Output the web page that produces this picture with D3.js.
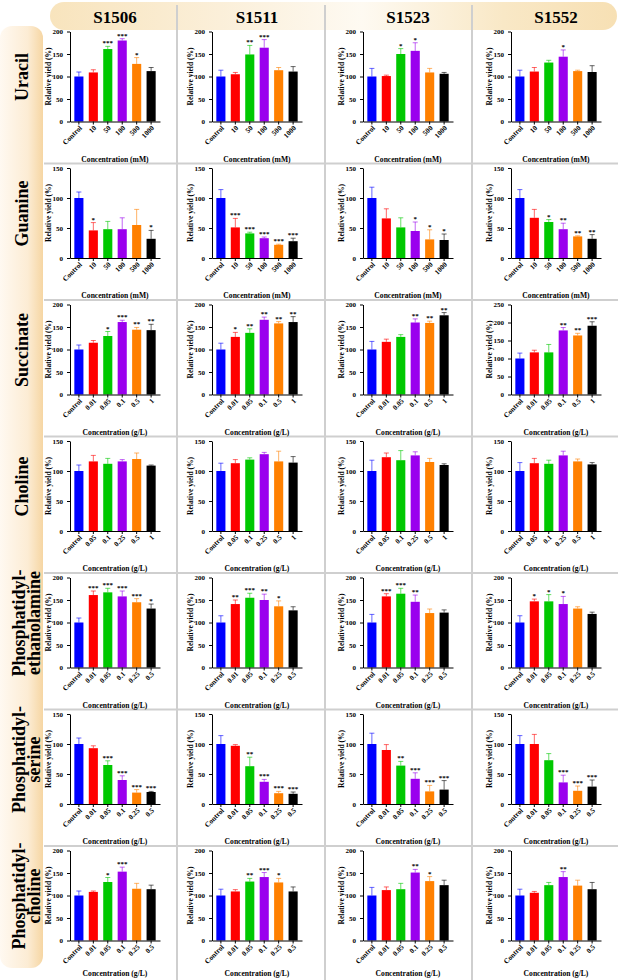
<!DOCTYPE html>
<html>
<head>
<meta charset="utf-8">
<script src="https://cdn.jsdelivr.net/npm/d3@7"></script>
<style>
  body { margin: 0; background: #fff; }
  svg { display: block; }
  text { font-family: "Liberation Serif", "Times New Roman", serif; font-weight: bold; }
</style>
</head>
<body>
<script>
// strains (columns) and compounds (rows)
var strains = ['S1506', 'S1511', 'S1523', 'S1552'];
var rowLabels = [['Uracil'], ['Guanine'], ['Succinate'], ['Choline'],
  ['Phosphatidyl-', 'ethanolamine'], ['Phosphatidyl-', 'serine'], ['Phosphatidyl-', 'choline']];
var units = ['mM', 'mM', 'g/L', 'g/L', 'g/L', 'g/L', 'g/L'];

// x tick labels
var mMLabels = ['Control', '10', '50', '100', '500', '1000'];
var succinateLabels = ['Control', '0.01', '0.05', '0.1', '0.5', '1'];
var cholineLabels = ['Control', '0.05', '0.1', '0.25', '0.5', '1'];
var lipidLabels = ['Control', '0.01', '0.05', '0.1', '0.25', '0.5'];

// y axis top per row / column
var yMax = [[200, 200, 200, 200], [150, 150, 150, 150], [200, 200, 200, 250], [150, 150, 150, 150],
  [200, 200, 200, 200], [150, 150, 150, 150], [200, 200, 200, 200]];

var barColors = ['#0000ff', '#ff0000', '#00c800', '#9a00ee', '#ff8000', '#000000'];

// URACIL
var uracilMean = [[100, 109, 161, 180, 128, 112], [100, 105, 149, 164, 114, 111], [100, 101, 150, 157, 109, 106], [100, 111, 131, 144, 112, 110]];
var uracilErr = [[10, 6, 6, 4, 14, 8], [14, 4, 20, 18, 6, 11], [18, 2, 12, 18, 9, 3], [14, 9, 5, 15, 2, 14]];
var uracilSig = [['', '', '***', '***', '*', ''], ['', '', '**', '***', '', ''], ['', '', '*', '*', '', ''], ['', '', '', '*', '', '']];

// GUANINE
var guanineMean = [[100, 46, 48, 48, 55, 32], [100, 51, 41, 33, 22, 28], [100, 66, 51, 45, 31, 30], [100, 67, 60, 48, 36, 32]];
var guanineErr = [[10, 13, 13, 19, 26, 14], [14, 15, 2, 2, 1, 5], [18, 16, 16, 15, 16, 10], [14, 14, 4, 10, 1, 7]];
var guanineSig = [['', '*', '', '', '', '*'], ['', '***', '***', '***', '***', '***'], ['', '', '', '*', '*', '*'], ['', '', '*', '**', '**', '**']];

// SUCCINATE
var succinateMean = [[100, 115, 130, 161, 144, 143], [100, 128, 137, 166, 158, 161], [100, 117, 128, 160, 159, 176], [100, 117, 117, 178, 164, 191]];
var succinateErr = [[10, 5, 10, 4, 5, 13], [14, 10, 9, 6, 4, 12], [18, 6, 5, 8, 4, 6], [15, 6, 22, 8, 6, 11]];
var succinateSig = [['', '', '*', '***', '**', '**'], ['', '*', '**', '**', '**', '**'], ['', '', '', '**', '**', '**'], ['', '', '', '**', '**', '***']];

// CHOLINE
var cholineMean = [[100, 116, 112, 116, 120, 109], [100, 113, 119, 128, 116, 114], [100, 123, 118, 126, 115, 110], [100, 113, 112, 126, 116, 111]];
var cholineErr = [[10, 10, 9, 3, 10, 1], [13, 6, 3, 3, 17, 10], [18, 7, 16, 6, 6, 2], [14, 8, 6, 7, 4, 3]];
var cholineSig = [['', '', '', '', '', ''], ['', '', '', '', '', ''], ['', '', '', '', '', ''], ['', '', '', '', '', '']];

// PHOSPHATIDYLETHANOLAMINE
var peMean = [[100, 161, 167, 158, 145, 131], [100, 141, 155, 150, 136, 127], [100, 158, 164, 146, 121, 122], [100, 147, 147, 141, 131, 119]];
var peErr = [[10, 9, 9, 12, 8, 10], [15, 9, 10, 13, 12, 8], [18, 6, 12, 15, 9, 6], [15, 5, 15, 17, 4, 4]];
var peSig = [['', '***', '***', '***', '***', '*'], ['', '**', '***', '**', '*', ''], ['', '***', '***', '**', '', ''], ['', '*', '*', '*', '', '']];

// PHOSPHATIDYLSERINE
var psMean = [[100, 93, 65, 40, 19, 20], [100, 97, 63, 37, 18, 17], [100, 90, 64, 42, 21, 24], [100, 100, 73, 36, 22, 29]];
var psErr = [[10, 4, 7, 7, 5, 1], [14, 2, 15, 4, 3, 3], [18, 9, 7, 10, 10, 15], [14, 16, 11, 12, 8, 11]];
var psSig = [['', '', '***', '***', '***', '***'], ['', '', '**', '***', '***', '***'], ['', '', '**', '***', '***', '***'], ['', '', '', '***', '***', '***']];

// PHOSPHATIDYLCHOLINE
var pcMean = [[100, 108, 130, 153, 115, 114], [100, 109, 131, 141, 129, 109], [100, 112, 114, 151, 132, 123], [100, 106, 123, 141, 122, 114]];
var pcErr = [[10, 2, 10, 10, 12, 9], [14, 4, 7, 10, 9, 10], [18, 7, 13, 7, 10, 11], [14, 3, 6, 12, 12, 15]];
var pcSig = [['', '', '*', '***', '', ''], ['', '', '**', '***', '*', ''], ['', '', '', '**', '*', ''], ['', '', '', '**', '', '']];

// TABLE OF ROWS
var rows = [
  { labels: mMLabels, mean: uracilMean, err: uracilErr, sig: uracilSig },
  { labels: mMLabels, mean: guanineMean, err: guanineErr, sig: guanineSig },
  { labels: succinateLabels, mean: succinateMean, err: succinateErr, sig: succinateSig },
  { labels: cholineLabels, mean: cholineMean, err: cholineErr, sig: cholineSig },
  { labels: lipidLabels, mean: peMean, err: peErr, sig: peSig },
  { labels: lipidLabels, mean: psMean, err: psErr, sig: psSig },
  { labels: lipidLabels, mean: pcMean, err: pcErr, sig: pcSig }
];

// LAYOUT
var W = 618, H = 980;
var rowH = 136.5, firstRow = 27;
var plotX = [70, 212, 363, 511];
var plotW = 90, plotTop = 4.5, plotH = 90;
var dividers = [177, 325, 472];

var svg = d3.select('body').append('svg').attr('width', W).attr('height', H);
var defs = svg.append('defs');

// header gradient
var hg = defs.append('linearGradient').attr('id', 'headGrad');
[['0', '#f8e4bd'], ['0.3', '#fbefd9'], ['0.55', '#fefaf2'], ['0.8', '#f9e8c6'], ['1', '#f7e0b4']]
  .forEach(function (s) { hg.append('stop').attr('offset', s[0]).attr('stop-color', s[1]); });

// left band gradient
var lg = defs.append('linearGradient').attr('id', 'sideGrad');
[['0', '#fff9f1'], ['0.65', '#fcecd4'], ['1', '#f6d6a3']]
  .forEach(function (s) { lg.append('stop').attr('offset', s[0]).attr('stop-color', s[1]); });

svg.append('rect').attr('x', 50).attr('y', 2).attr('width', 567).attr('height', 28)
  .attr('rx', 14).attr('fill', 'url(#headGrad)');
svg.append('rect').attr('x', 0).attr('y', 26).attr('width', 43).attr('height', 942)
  .attr('rx', 12).attr('fill', 'url(#sideGrad)');

// GRID SEPARATORS
dividers.forEach(function (x) {
  svg.append('line').attr('x1', x).attr('x2', x).attr('y1', 5).attr('y2', H)
    .attr('stroke', '#cfcfcf').attr('stroke-width', 2);
});
for (var r = 1; r < rows.length; r++) {
  svg.append('line').attr('x1', 44).attr('x2', W)
    .attr('y1', firstRow + r * rowH).attr('y2', firstRow + r * rowH)
    .attr('stroke', '#cfcfcf').attr('stroke-width', 2);
}

// COLUMN TITLES
strains.forEach(function (s, c) {
  svg.append('text').attr('x', plotX[c] + plotW / 2).attr('y', 23)
    .attr('text-anchor', 'middle').attr('font-size', 17).text(s);
});

// ROW TITLES
rowLabels.forEach(function (lines, r) {
  var cy = firstRow + r * rowH + 50;
  var t = svg.append('text')
    .attr('transform', 'translate(' + (lines.length === 1 ? 28 : 25) + ',' + cy + ') rotate(-90)')
    .attr('text-anchor', 'middle').attr('font-size', 18);
  lines.forEach(function (l, i) {
    t.append('tspan').attr('x', 0).attr('y', i * 14.5).text(l);
  });
});

// PANELS
rows.forEach(function (row, r) {
  var top = firstRow + r * rowH;
  strains.forEach(function (s, c) {
    var x0 = plotX[c];
    var y0 = top + plotTop;
    var max = yMax[r][c];

    var xScale = d3.scaleBand()
      .domain(row.labels)
      .range([x0, x0 + plotW])
      .paddingInner(0.37)
      .paddingOuter(0.3);

    var yScale = d3.scaleLinear()
      .domain([0, max])
      .range([y0 + plotH, y0]);

    var g = svg.append('g');
    var data = row.labels.map(function (l, i) {
      return { label: l, mean: row.mean[c][i], err: row.err[c][i], sig: row.sig[c][i], color: barColors[i] };
    });

    // error bars (one sided, up)
    var eb = g.selectAll('.eb').data(data).enter().append('g')
      .attr('stroke', function (d) { return d.color; })
      .attr('stroke-opacity', 0.6)
      .attr('stroke-width', 1);
    eb.append('line')
      .attr('x1', function (d) { return xScale(d.label) + xScale.bandwidth() / 2; })
      .attr('x2', function (d) { return xScale(d.label) + xScale.bandwidth() / 2; })
      .attr('y1', function (d) { return yScale(d.mean); })
      .attr('y2', function (d) { return yScale(d.mean + d.err); });
    eb.append('line')
      .attr('x1', function (d) { return xScale(d.label) + xScale.bandwidth() / 2 - 2.5; })
      .attr('x2', function (d) { return xScale(d.label) + xScale.bandwidth() / 2 + 2.5; })
      .attr('y1', function (d) { return yScale(d.mean + d.err); })
      .attr('y2', function (d) { return yScale(d.mean + d.err); });

    // bars
    g.selectAll('.bar').data(data).enter().append('rect')
      .attr('x', function (d) { return xScale(d.label); })
      .attr('y', function (d) { return yScale(d.mean); })
      .attr('width', xScale.bandwidth())
      .attr('height', function (d) { return yScale(0) - yScale(d.mean); })
      .attr('fill', function (d) { return d.color; });

    // significance stars
    g.selectAll('.sig').data(data).enter().append('text')
      .attr('x', function (d) { return xScale(d.label) + xScale.bandwidth() / 2; })
      .attr('y', function (d) { return yScale(d.mean + d.err) - 1; })
      .attr('text-anchor', 'middle')
      .attr('font-size', 7)
      .text(function (d) { return d.sig; });

    // y axis
    var yAxis = g.append('g').attr('transform', 'translate(' + x0 + ',0)')
      .call(d3.axisLeft(yScale).tickValues(d3.range(0, max + 1, 50)).tickSize(3).tickSizeOuter(0).tickFormat(d3.format('d')));
    yAxis.selectAll('text').attr('font-size', 7).attr('font-family', null).attr('dx', -1);

    // x axis
    var xAxis = g.append('g').attr('transform', 'translate(0,' + (y0 + plotH) + ')')
      .call(d3.axisBottom(xScale).tickSize(3).tickSizeOuter(0));
    xAxis.selectAll('text')
      .attr('font-size', 7.2).attr('font-family', null)
      .attr('text-anchor', 'end')
      .attr('dy', null).attr('y', 0)
      .attr('transform', 'translate(3.5,7) rotate(-45)');
    g.selectAll('.domain').attr('stroke-width', 1);

    // axis titles
    g.append('text')
      .attr('transform', 'translate(' + (x0 - 19) + ',' + (y0 + plotH / 2) + ') rotate(-90)')
      .attr('text-anchor', 'middle').attr('font-size', 7.5)
      .text('Relative yield (%)');
    g.append('text')
      .attr('x', x0 + plotW / 2).attr('y', Math.min(top + 134.5, H - 4))
      .attr('text-anchor', 'middle').attr('font-size', 7.6)
      .text('Concentration (' + units[r] + ')');
  });
});
</script>
</body>
</html>
